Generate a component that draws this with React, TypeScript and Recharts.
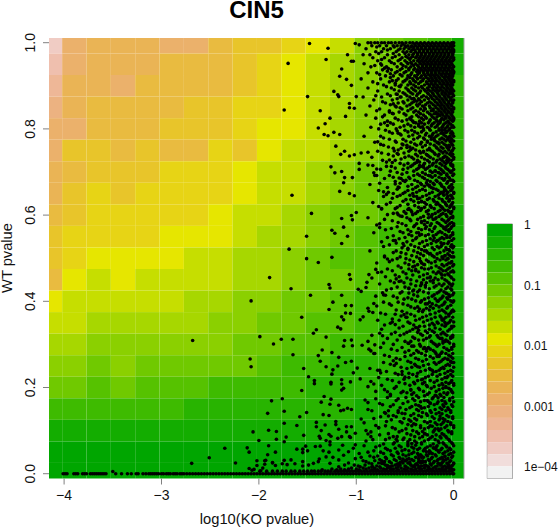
import { ScatterChart, Scatter, XAxis, YAxis, ReferenceArea, ReferenceLine, BarChart, Bar } from "recharts";

const levelColors = [
  "#00A600", "#13AD00", "#28B400", "#3EBB00", "#56C200", "#70C900", "#8BD000",
  "#A7D700", "#C6DE00", "#E6E600", "#E7D415", "#E8C52A", "#E9BB40", "#EAB455",
  "#EBB16B", "#ECB281", "#EEB797", "#EFBFAE", "#F0CCC4", "#F1DDDB", "#F2F2F2",
];

const koMin = -4.155;
const koMax = 0.106;
const wtMin = -0.0111;
const wtMax = 1.0109;

const koEdges = [koMin, -4.02, -3.77, -3.52, -3.27, -3.02, -2.77, -2.52, -2.27, -2.02, -1.77, -1.52, -1.27, -1.02, -0.77, -0.52, -0.27, -0.02, koMax];
const wtEdges = [wtMax, 0.975, 0.925, 0.875, 0.825, 0.775, 0.725, 0.675, 0.625, 0.575, 0.525, 0.475, 0.425, 0.375, 0.325, 0.275, 0.225, 0.175, 0.125, 0.075, 0.025, wtMin];

// palette index of each cell, top row first
const heatLevels = [
  [18, 14, 13, 13, 13, 14, 14, 12, 11, 11, 10, 9, 8, 6, 5, 4, 3, 1],
  [17, 14, 13, 13, 13, 12, 12, 12, 11, 10, 9, 8, 7, 6, 5, 4, 3, 1],
  [16, 13, 13, 14, 12, 12, 12, 12, 11, 10, 9, 8, 7, 6, 5, 4, 3, 2],
  [15, 13, 12, 12, 12, 12, 11, 11, 10, 10, 9, 8, 7, 6, 5, 4, 3, 2],
  [14, 14, 12, 12, 12, 11, 11, 11, 10, 9, 9, 8, 7, 6, 5, 4, 3, 2],
  [14, 11, 11, 12, 11, 12, 12, 10, 11, 9, 8, 8, 7, 6, 5, 4, 3, 2],
  [13, 12, 11, 11, 11, 10, 10, 10, 9, 8, 8, 7, 6, 5, 4, 3, 2, 2],
  [13, 11, 10, 11, 10, 10, 10, 10, 9, 8, 8, 7, 6, 5, 4, 3, 2, 2],
  [12, 11, 10, 10, 10, 10, 10, 9, 8, 8, 7, 6, 5, 5, 4, 3, 2, 1],
  [11, 10, 10, 10, 10, 9, 9, 9, 8, 7, 7, 6, 5, 4, 3, 3, 2, 1],
  [11, 10, 9, 9, 9, 9, 8, 8, 7, 7, 6, 5, 4, 4, 3, 3, 2, 1],
  [12, 9, 8, 9, 8, 8, 8, 8, 7, 7, 6, 5, 5, 4, 3, 2, 2, 1],
  [9, 8, 8, 8, 8, 8, 7, 7, 6, 6, 5, 5, 4, 3, 3, 2, 1, 1],
  [8, 8, 7, 7, 7, 7, 7, 6, 6, 5, 5, 4, 4, 3, 2, 2, 1, 1],
  [7, 7, 6, 6, 6, 6, 6, 6, 5, 5, 4, 4, 3, 3, 2, 2, 1, 1],
  [6, 6, 5, 6, 5, 5, 5, 5, 5, 4, 3, 3, 2, 2, 2, 1, 1, 0],
  [5, 5, 4, 5, 4, 4, 4, 3, 3, 3, 3, 2, 2, 2, 1, 1, 1, 0],
  [3, 3, 3, 3, 3, 3, 2, 2, 2, 2, 2, 2, 2, 1, 1, 1, 0, 0],
  [1, 1, 1, 1, 1, 1, 1, 1, 1, 1, 1, 1, 1, 1, 1, 1, 0, 0],
  [0, 0, 0, 0, 0, 0, 0, 0, 0, 0, 0, 0, 0, 0, 0, 0, 0, 0],
  [0, 0, 0, 0, 0, 0, 0, 0, 0, 0, 0, 0, 0, 0, 0, 0, 0, 0],
];

const koTicks = [-4, -3, -2, -1, 0];
const wtTicks = [0, 0.2, 0.4, 0.6, 0.8, 1];
const legendTicks = [0, -1, -2, -3, -4];
const legendLabels = ["1", "0.1", "0.01", "0.001", "1e\u221204"];

// points are ko*100, wt*1000 from here on
const sparsePoints = [
  [-148, 998], [-129, 987], [-170, 952], [-131, 961], [-109, 972], [-101, 998], [-97, 995], [-105, 957], [-103, 957], [-115, 939],
  [-117, 922], [-110, 915], [-105, 901], [-123, 887], [-119, 879], [-118, 875], [-150, 875], [-174, 844], [-137, 842], [-127, 825],
  [-132, 812], [-139, 802], [-133, 787], [-129, 784], [-123, 792], [-117, 787], [-111, 829], [-107, 859], [-102, 848], [-107, 849],
  [-100, 875], [-121, 760], [-116, 741], [-112, 748], [-107, 737], [-102, 740], [-95, 744], [-88, 746], [-126, 712], [-122, 698],
  [-115, 701], [-112, 687], [-113, 675], [-104, 687], [-97, 720], [-97, 706], [-88, 716], [-83, 715], [-79, 707], [-166, 646],
  [-117, 655], [-107, 650], [-146, 604], [-102, 645], [-115, 592], [-105, 599], [-104, 589], [-100, 606], [-125, 565], [-122, 558],
  [-113, 572], [-109, 551], [-151, 551], [-169, 521], [-151, 499], [-125, 502], [-115, 534], [-139, 490],
  [-189, 455], [-208, 401], [-268, 309], [-199, 318], [-185, 301], [-209, 266], [-208, 248], [-187, 169], [-191, 140], [-206, 97],
  [-190, 101], [-182, 98], [-200, 77], [-182, 80], [-190, 65], [-235, 59], [-212, 60], [-210, 50], [-191, 44], [-183, 50],
  [-251, 37], [-202, 30], [-194, 30], [-194, 22], [-269, 24], [-224, 25], [-186, 25], [-202, 19], [-196, 13], [-183, 19],
  [-210, 12], [-207, 8], [-205, 10], [-198, 7], [-350, 5],
  [-143, 209], [-126, 208], [-115, 208], [-113, 198], [-115, 194], [-156, 193], [-176, 174], [-133, 179], [-136, 166], [-126, 173],
  [-127, 161], [-118, 159], [-174, 145], [-151, 142], [-158, 132], [-134, 137], [-128, 135], [-116, 146], [-113, 148], [-109, 152],
  [-105, 149], [-174, 117], [-161, 112], [-141, 119], [-141, 109], [-132, 113], [-121, 121], [-121, 114], [-110, 109], [-118, 103],
  [-136, 100], [-105, 109], [-110, 97], [-174, 74], [-172, 85], [-154, 89], [-126, 87], [-128, 91], [-137, 82], [-138, 87],
  [-131, 77], [-127, 74], [-119, 82], [-115, 86], [-107, 86], [-106, 84], [-101, 94], [-152, 64], [-161, 57], [-155, 57],
  [-155, 49], [-150, 53], [-142, 63], [-137, 64], [-127, 67], [-134, 53], [-128, 50], [-114, 66], [-118, 55], [-101, 67],
  [-138, 34], [-131, 39], [-124, 38], [-193, 31], [-174, 31], [-167, 32], [-155, 28], [-186, 26], [-176, 23], [-171, 21],
  [-163, 23], [-155, 18], [-149, 20], [-144, 24], [-139, 28], [-127, 24], [-118, 32], [-113, 43], [-108, 51], [-103, 59],
  [-167, 429], [-147, 414], [-128, 439], [-127, 431], [-115, 414], [-124, 398], [-128, 381], [-107, 462], [-106, 451], [-87, 462],
  [-89, 444], [-90, 432], [-98, 428], [-95, 423], [-156, 363], [-115, 364], [-113, 357], [-111, 390], [-105, 390], [-111, 373],
  [-106, 372], [-119, 340], [-116, 336], [-93, 364], [-96, 357], [-87, 377], [-83, 374], [-177, 312], [-165, 312], [-165, 276],
  [-144, 326], [-141, 334], [-131, 317], [-135, 287], [-139, 274], [-125, 281], [-137, 261], [-154, 244], [-131, 248], [-118, 270],
  [-112, 309], [-113, 296], [-105, 310], [-104, 297], [-94, 298], [-88, 307], [-87, 289], [-81, 299], [-124, 241], [-119, 250],
  [-125, 231], [-149, 225], [-126, 212], [-143, 216], [-111, 258], [-105, 261], [-99, 245], [-103, 234], [-115, 218], [-106, 213], [-96, 220],
];

// chains of touching dots in the dense right part
const clumpPoints = [
  [-41, 871], [-38, 864], [-35, 858], [-21, 842], [-18, 835], [-14, 831], [-44, 822], [-41, 815], [-36, 811], [-32, 805],
  [-12, 798], [-8, 792], [-23, 781], [-20, 774], [-17, 768], [-52, 763], [-48, 757], [-44, 752], [-31, 746], [-27, 739],
  [-11, 733], [-7, 727], [-38, 722], [-35, 715], [-31, 711], [-19, 703], [-15, 698], [-24, 691], [-56, 686], [-52, 680],
  [-28, 675], [-25, 669], [-21, 662], [-10, 655], [-7, 649], [-41, 644], [-37, 638], [-33, 631], [-16, 626], [-13, 620],
  [-47, 613], [-43, 607], [-26, 602], [-23, 596], [-19, 591], [-33, 585], [-30, 578], [-8, 572], [-5, 565], [-38, 559],
  [-35, 553], [-20, 547], [-17, 541], [-13, 536], [-51, 529], [-47, 523], [-28, 517], [-24, 511], [-9, 505], [-6, 499],
  [-34, 493], [-31, 486], [-42, 480], [-39, 474], [-15, 468], [-12, 461], [-24, 455], [-21, 449], [-33, 443], [-29, 437],
  [-46, 431], [-42, 424], [-7, 418], [-4, 412], [-19, 406], [-16, 400], [-27, 394], [-24, 388], [-35, 382], [-32, 376],
  [-51, 369], [-48, 363], [-12, 357], [-9, 351], [-20, 345], [-39, 339], [-36, 333], [-27, 327], [-24, 320], [-14, 314],
  [-11, 308], [-46, 302], [-43, 296], [-31, 290], [-28, 284], [-18, 278], [-15, 272], [-6, 266], [-3, 260], [-40, 254],
  [-37, 248], [-24, 242], [-21, 236], [-53, 230], [-50, 224], [-33, 218], [-30, 212], [-11, 206], [-8, 200], [-44, 194],
  [-41, 188], [-19, 182], [-16, 176], [-27, 170], [-24, 164], [-36, 158], [-33, 152], [-57, 146], [-53, 140], [-14, 134],
  [-11, 128], [-44, 122], [-41, 116], [-22, 110], [-19, 104], [-32, 98], [-29, 92], [-62, 86], [-59, 80], [-47, 74],
  [-43, 70], [-39, 66], [-21, 60], [-18, 56], [-28, 51], [-25, 47], [-36, 42], [-33, 38], [-52, 34], [-49, 30],
  [-45, 27], [-16, 24], [-13, 21], [-68, 19], [-65, 16], [-26, 15], [-30, 19], [-42, 17], [-39, 22], [-58, 22],
  [-55, 26], [-74, 24], [-71, 28], [-11, 33], [-9, 40], [-35, 30], [-32, 26], [-7, 15], [-84, 16], [-81, 12],
  [-63, 912], [-60, 906], [-56, 899], [-68, 934], [-65, 928], [-74, 948], [-71, 941], [-58, 880], [-55, 874], [-62, 858],
  [-59, 851], [-66, 842], [-63, 836], [-71, 814], [-68, 808], [-58, 795], [-55, 788], [-78, 770], [-75, 764], [-61, 749],
  [-58, 743], [-66, 728], [-63, 722], [-82, 698], [-79, 692], [-60, 672], [-57, 665], [-72, 654], [-69, 648], [-77, 620],
  [-74, 614], [-58, 605], [-55, 598], [-79, 577], [-76, 571], [-62, 541], [-59, 535], [-71, 505], [-68, 498], [-80, 474],
  [-78, 467], [-59, 452], [-56, 446], [-73, 420], [-70, 414], [-82, 395], [-79, 389], [-63, 352], [-60, 346], [-76, 326],
  [-73, 320], [-85, 285], [-82, 279], [-62, 262], [-59, 256], [-78, 240], [-75, 234], [-85, 214], [-82, 208], [-68, 190],
  [-65, 184], [-91, 171], [-88, 165], [-70, 140], [-67, 134], [-95, 127], [-80, 112], [-77, 106], [-88, 92], [-85, 86],
];

const koAtZeroWt = [
  -401, -399, -397, -390, -388, -386, -381, -379, -377, -373, -371, -369, -367, -365, -363, -361, -359, -357, -347, -341, -335, -331,
  -326, -324, -319, -316, -313, -311, -309, -307, -305, -303, -300, -298, -295, -293, -291, -288, -286, -284, -281, -279, -277, -274,
  -271, -268, -265, -262, -259, -256, -253, -250, -247, -244, -241, -238, -235, -232, -229, -226, -223, -220, -217, -214, -211, -208,
  -205, -202, -199, -196, -193, -190, -187, -184, -181, -178, -175, -172, -169, -166, -163, -160, -157, -154, -151, -148, -145, -142,
  -139, -136, -133, -130, -127, -124, -121, -118, -115, -112, -109, -106, -103, -100, -97, -94, -91, -88, -85, -82, -79, -76, -73, -70,
  -67, -64, -61, -58, -55, -52, -49, -46, -43, -40, -37, -34, -31, -28, -25, -22, -19, -16, -13, -10, -7, -4, -1, 0,
];
const koAtLowWt = [
  -199, -192, -186, -181, -176, -172, -167, -163, -158, -154, -150, -146, -143, -139, -136, -132, -129, -126, -122, -119, -116, -113,
  -110, -107, -104, -101, -98, -95, -92, -89, -86, -83, -80, -77, -74, -71, -68, -65, -62, -59, -56, -53, -50, -47, -44, -41, -38, -35,
  -32, -29, -26, -23, -20, -17, -14, -11, -8, -5, -2,
];

// one row per wt value: [wt*1000, [ko*100, ...]]
const denseRows: [number, number[]][] = [
  [1000, [-88, -85, -81, -78, -74, -71, -67, -64, -60, -56, -53, -49, -45, -42, -38, -34, -30, -26, -22, -18, -14, -10, -6, -2, 0]],
  [993, [-84, -76, -69, -62, -58, -54, -50, -47, -43, -39, -35, -31, -27, -23, -19, -15, -11, -7, -3, 0]],
  [986, [-90, -72, -65, -55, -51, -46, -41, -37, -33, -29, -25, -21, -17, -13, -9, -5, -1]],
  [979, [-80, -74, -59, -52, -48, -44, -39, -35, -31, -27, -23, -19, -15, -11, -7, -3, 0]],
  [972, [-93, -86, -68, -56, -46, -42, -37, -33, -29, -25, -21, -17, -13, -9, -5, -1]],
  [965, [-83, -71, -63, -53, -47, -44, -39, -35, -31, -27, -23, -19, -15, -11, -7, -3, 0]],
  [958, [-78, -66, -57, -50, -41, -37, -33, -29, -25, -21, -17, -13, -9, -5, -1]],
  [951, [-92, -75, -61, -54, -47, -43, -39, -34, -30, -26, -22, -18, -14, -10, -6, -2]],
  [944, [-85, -69, -58, -49, -44, -36, -32, -28, -24, -20, -16, -12, -8, -4, 0]],
  [937, [-73, -64, -55, -46, -41, -37, -33, -29, -25, -21, -17, -13, -9, -5, -1]],
  [930, [-88, -79, -60, -51, -43, -35, -31, -27, -23, -19, -15, -11, -7, -3, 0]],
  [923, [-70, -62, -53, -47, -40, -33, -29, -24, -20, -16, -12, -8, -4, -1]],
  [916, [-95, -75, -57, -48, -42, -37, -31, -26, -22, -18, -14, -9, -5, -2]],
  [909, [-83, -66, -52, -45, -39, -34, -28, -23, -19, -15, -11, -7, -3, 0]],
  [902, [-72, -60, -54, -47, -41, -30, -25, -21, -17, -12, -8, -4, -1]],
  [895, [-88, -64, -49, -43, -36, -32, -27, -22, -18, -14, -10, -6, -2]],
  [888, [-78, -56, -46, -39, -34, -29, -24, -19, -15, -11, -7, -3, 0]],
  [881, [-68, -59, -50, -42, -37, -26, -21, -16, -12, -8, -4, -1]],
  [874, [-93, -74, -54, -45, -33, -28, -23, -18, -14, -9, -5, -2]],
  [867, [-82, -63, -47, -40, -35, -30, -20, -15, -11, -7, -3, 0]],
  [860, [-70, -57, -51, -43, -27, -23, -17, -13, -9, -5, -1]],
  [853, [-86, -60, -48, -37, -32, -25, -19, -14, -10, -6, -2]],
  [846, [-76, -53, -44, -34, -29, -21, -16, -12, -8, -3, 0]],
  [839, [-66, -56, -41, -36, -27, -18, -13, -9, -5, -1]],
  [832, [-90, -71, -49, -38, -31, -23, -15, -11, -7, -2]],
  [825, [-80, -60, -45, -33, -28, -20, -12, -8, -4, 0]],
  [818, [-68, -53, -42, -35, -25, -17, -14, -6, -1]],
  [811, [-75, -62, -47, -30, -22, -16, -10, -3]],
  [804, [-85, -55, -40, -34, -27, -19, -12, -7, -2, 0]],
  [797, [-70, -50, -43, -31, -24, -15, -9, -5]],
  [790, [-63, -57, -37, -28, -21, -13, -11, -3, -1]],
  [783, [-92, -75, -46, -35, -25, -18, -8, -4, 0]],
  [776, [-66, -52, -41, -30, -23, -14, -10, -6, -2]],
  [769, [-81, -59, -44, -33, -27, -16, -12, -3]],
  [762, [-72, -48, -38, -29, -20, -8, -5, -1]],
  [755, [-62, -54, -42, -25, -17, -11, -6, 0]],
  [748, [-78, -46, -35, -31, -22, -13, -9, -2]],
  [741, [-67, -57, -39, -28, -19, -15, -4, -1]],
  [734, [-84, -50, -43, -33, -24, -10, -7, 0]],
  [727, [-73, -60, -37, -27, -17, -12, -5, -2]],
  [720, [-55, -47, -40, -30, -21, -14, -8, -3]],
  [713, [-69, -64, -44, -34, -25, -18, -9, -1]],
  [706, [-75, -52, -38, -29, -13, -6, 0]],
  [699, [-58, -48, -32, -22, -16, -10, -3]],
  [692, [-81, -66, -41, -35, -26, -19, -7, -1]],
  [685, [-71, -54, -45, -30, -12, -9, -4]],
  [678, [-60, -50, -37, -24, -17, -6, 0]],
  [671, [-86, -43, -33, -27, -20, -13, -2]],
  [664, [-68, -56, -39, -23, -10, -5, -1]],
  [657, [-77, -47, -35, -29, -16, -8, -3]],
  [650, [-62, -52, -42, -25, -14, -11, 0]],
  [643, [-72, -58, -38, -32, -19, -6, -2]],
  [636, [-49, -44, -27, -21, -12, -4]],
  [629, [-83, -65, -36, -30, -17, -9, -1]],
  [622, [-55, -40, -24, -14, -7, -3]],
  [615, [-74, -60, -46, -33, -20, -11, 0]],
  [608, [-51, -37, -28, -16, -5, -2]],
  [601, [-68, -57, -42, -22, -13, -8]],
  [594, [-88, -48, -34, -26, -18, -3, -1]],
  [587, [-63, -44, -30, -10, -6]],
  [580, [-76, -53, -38, -23, -15, -4, 0]],
  [573, [-58, -41, -28, -19, -11, -2]],
  [566, [-70, -47, -33, -25, -8, -5]],
  [559, [-82, -52, -36, -16, -12, -1]],
  [552, [-62, -43, -29, -21, -7, -3]],
  [545, [-56, -39, -24, -14, -10, 0]],
  [538, [-74, -48, -32, -18, -5]],
  [531, [-66, -44, -27, -12, -2]],
  [524, [-53, -36, -22, -15, -8, -1]],
  [517, [-86, -59, -41, -30, -10, -4]],
  [510, [-49, -34, -25, -17, -6]],
  [503, [-71, -55, -38, -20, -12, -2, 0]],
  [496, [-63, -45, -28, -14, -8]],
  [489, [-79, -50, -33, -23, -5, -3]],
  [482, [-57, -40, -18, -10, -1]],
  [475, [-68, -46, -30, -26, -13, -6]],
  [468, [-74, -52, -36, -21, -16, -3, 0]],
  [461, [-60, -42, -31, -9, -5]],
  [454, [-84, -48, -27, -19, -12, -2]],
  [447, [-65, -54, -38, -24, -7]],
  [440, [-76, -44, -33, -15, -10, -4, -1]],
  [433, [-58, -50, -29, -20, -6]],
  [426, [-69, -41, -35, -13, -2]],
  [419, [-55, -46, -26, -17, -8, 0]],
  [412, [-80, -62, -37, -22, -11, -4]],
  [405, [-51, -43, -30, -14, -6]],
  [398, [-72, -57, -34, -25, -9, -1]],
  [391, [-64, -47, -18, -12, -3]],
  [384, [-88, -40, -28, -21, -7]],
  [377, [-53, -36, -15, -10, -2, 0]],
  [370, [-70, -60, -44, -24, -5]],
  [363, [-49, -32, -19, -13, -8, -1]],
  [356, [-78, -56, -39, -27, -11, -3]],
  [349, [-65, -45, -22, -16, -6]],
  [342, [-52, -35, -30, -9, -2, 0]],
  [335, [-74, -42, -25, -14, -4]],
  [328, [-60, -48, -37, -20, -11]],
  [321, [-84, -55, -32, -17, -7, -1]],
  [314, [-68, -40, -28, -12, -3]],
  [307, [-50, -44, -23, -9, -6]],
  [300, [-62, -35, -19, -15, 0]],
  [293, [-75, -53, -30, -26, -10, -2]],
  [286, [-58, -46, -38, -21, -5]],
  [279, [-81, -41, -33, -13, -8, -1]],
  [272, [-66, -50, -24, -17, -3]],
  [265, [-55, -36, -28, -11, -6]],
  [258, [-72, -44, -20, -15, -2, 0]],
  [251, [-61, -39, -31, -8, -4]],
  [244, [-86, -48, -25, -13, -10]],
  [237, [-69, -53, -34, -18, -6, -1]],
  [230, [-57, -42, -22, -14, -3]],
  [223, [-77, -46, -29, -9, -7]],
  [216, [-63, -37, -24, -17, -2]],
  [209, [-50, -40, -32, -12, -5, 0]],
  [202, [-88, -59, -27, -20, -8]],
  [195, [-71, -44, -35, -15, -3]],
  [188, [-54, -48, -25, -10, -6, -1]],
  [181, [-65, -38, -30, -18, -13]],
  [174, [-80, -57, -42, -22, -4]],
  [167, [-47, -34, -26, -16, -9, 0]],
  [160, [-73, -62, -39, -20, -11, -2]],
  [153, [-55, -45, -30, -14, -6]],
  [146, [-84, -67, -36, -24, -8, -3]],
  [139, [-50, -41, -28, -18, -12]],
  [132, [-75, -59, -33, -22, -5, -1]],
  [125, [-64, -46, -38, -15, -9]],
  [118, [-92, -53, -27, -19, -11, -3]],
  [111, [-70, -43, -34, -24, -7, 0]],
  [104, [-60, -49, -30, -16, -13]],
  [97, [-85, -56, -38, -21, -5, -2]],
  [90, [-76, -44, -27, -18, -10]],
  [83, [-66, -51, -35, -24, -13, -7]],
  [76, [-90, -58, -40, -30, -16, -4]],
  [69, [-72, -62, -47, -33, -21, -10, -1]],
  [62, [-80, -54, -43, -27, -18, -7]],
  [56, [-68, -50, -37, -30, -13, -3]],
  [50, [-88, -75, -58, -41, -24, -15, -9, 0]],
  [44, [-64, -52, -46, -34, -28, -19, -5]],
  [38, [-95, -82, -70, -56, -39, -31, -22, -12, -2]],
  [33, [-76, -61, -48, -43, -26, -16, -8]],
  [28, [-90, -66, -53, -36, -29, -20, -11, -4]],
  [23, [-84, -72, -57, -45, -38, -24, -14, -6, 0]],
  [18, [-98, -79, -63, -50, -41, -33, -27, -17, -9, -2]],
  [13, [-105, -93, -87, -75, -68, -59, -54, -47, -36, -30, -21, -12, -5]],
];

// second pass over the same area, between the rows above
const fillRows: [number, number[]][] = [
  [997, [-52, -40, -36, -32, -28, -24, -20, -16, -12, -8, -4, -1]],
  [990, [-79, -61, -49, -44, -41, -37, -33, -29, -25, -21, -17, -13, -9, -5, -2]],
  [983, [-68, -57, -43, -40, -35, -31, -27, -23, -19, -15, -11, -7, -3, 0]],
  [975, [-77, -62, -50, -41, -37, -33, -29, -25, -21, -17, -13, -9, -5, -1]],
  [968, [-60, -49, -42, -38, -34, -30, -26, -22, -18, -14, -10, -6, -2]],
  [961, [-74, -55, -45, -36, -32, -28, -24, -20, -16, -12, -8, -4, 0]],
  [954, [-64, -48, -44, -35, -31, -27, -23, -19, -15, -11, -7, -3]],
  [947, [-81, -52, -41, -37, -32, -28, -24, -20, -16, -12, -8, -4, -1]],
  [940, [-67, -53, -46, -40, -34, -30, -26, -22, -18, -14, -10, -6, -2]],
  [933, [-58, -49, -38, -35, -31, -27, -23, -19, -15, -11, -7, -3, 0]],
  [926, [-76, -55, -44, -37, -30, -26, -22, -18, -13, -9, -5, -1]],
  [919, [-65, -45, -38, -34, -28, -23, -19, -15, -10, -6, -2]],
  [912, [-59, -50, -41, -32, -25, -21, -17, -12, -8, -4, 0]],
  [905, [-78, -44, -36, -27, -23, -19, -14, -10, -6, -2]],
  [898, [-69, -55, -39, -33, -25, -20, -16, -12, -7, -3]],
  [891, [-61, -47, -41, -30, -26, -21, -17, -13, -8, -4, -1]],
  [884, [-52, -44, -35, -27, -22, -17, -12, -9, -5, -2]],
  [877, [-80, -65, -48, -38, -31, -24, -20, -15, -10, -6, 0]],
  [870, [-58, -43, -36, -26, -22, -17, -12, -8, -3]],
  [863, [-73, -52, -41, -33, -25, -19, -14, -10, -5, -1]],
  [856, [-65, -45, -38, -29, -21, -16, -12, -7, -3]],
  [849, [-55, -42, -30, -24, -18, -13, -9, -5, 0]],
  [842, [-79, -47, -39, -31, -23, -15, -10, -6, -2]],
  [835, [-62, -51, -34, -25, -20, -16, -12, -7, -3]],
  [828, [-73, -43, -36, -29, -22, -17, -9, -5, -1]],
  [821, [-57, -48, -31, -24, -18, -13, -10, -3, 0]],
  [814, [-65, -39, -33, -26, -20, -14, -8, -5]],
  [807, [-51, -44, -36, -23, -17, -11, -6, -1]],
  [800, [-77, -59, -31, -25, -15, -9, -4]],
  [793, [-66, -47, -40, -33, -18, -12, -7, -2]],
  [786, [-54, -42, -29, -22, -16, -10, -1]],
  [779, [-72, -37, -31, -20, -12, -6, -3]],
  [772, [-60, -49, -27, -19, -8, -4, 0]],
  [765, [-53, -40, -34, -24, -15, -10, -2]],
  [758, [-67, -45, -32, -18, -13, -7, -4]],
  [751, [-57, -39, -27, -24, -15, -5, -1]],
  [744, [-74, -51, -34, -20, -11, -7, -3]],
  [737, [-62, -46, -37, -26, -16, -9, -2]],
  [730, [-54, -41, -30, -21, -14, -5, 0]],
  [723, [-69, -35, -25, -18, -10, -6]],
  [716, [-51, -42, -31, -22, -12, -3, -1]],
  [709, [-60, -47, -36, -27, -15, -8]],
  [702, [-65, -41, -24, -19, -11, -4, -2]],
  [695, [-53, -37, -29, -13, -7, 0]],
  [688, [-62, -46, -32, -22, -15, -5]],
  [681, [-49, -40, -27, -18, -10, -3, -1]],
  [674, [-76, -55, -34, -21, -14, -7]],
  [667, [-47, -37, -30, -25, -12, -4]],
  [660, [-58, -42, -32, -18, -9, -2]],
  [653, [-67, -50, -38, -22, -13, -6, 0]],
  [646, [-55, -45, -28, -16, -10, -3]],
  [639, [-63, -35, -25, -15, -7, -1]],
  [632, [-52, -41, -33, -20, -11, -5]],
  [625, [-69, -47, -28, -18, -8, -2]],
  [618, [-58, -36, -30, -23, -12, -4, 0]],
  [611, [-44, -34, -26, -14, -9, -6]],
  [604, [-62, -49, -39, -19, -11, -3]],
  [597, [-53, -31, -23, -15, -7, -1]],
  [590, [-71, -45, -37, -21, -12, -5]],
  [583, [-57, -33, -27, -17, -8, -2]],
  [576, [-49, -40, -24, -13, -6, 0]],
  [569, [-64, -36, -29, -20, -10, -3]],
  [562, [-55, -44, -22, -14, -5]],
  [555, [-46, -33, -26, -18, -9, -1]],
  [548, [-68, -50, -38, -12, -7, -4]],
  [541, [-60, -42, -28, -21, -16, -2]],
  [534, [-52, -35, -23, -10, -6]],
  [527, [-72, -40, -30, -17, -13, -3, 0]],
  [520, [-47, -33, -20, -7, -5]],
  [513, [-62, -54, -37, -27, -14, -1]],
  [506, [-43, -31, -22, -9, -4]],
  [499, [-58, -49, -35, -17, -11, -6]],
  [492, [-66, -41, -26, -19, -2]],
  [485, [-46, -37, -30, -12, -7, 0]],
  [478, [-54, -33, -23, -15, -4]],
  [471, [-63, -43, -39, -11, -8, -1]],
  [464, [-49, -27, -18, -13, -6]],
  [457, [-70, -56, -35, -24, -3]],
  [450, [-44, -31, -16, -9, 0]],
  [443, [-61, -51, -28, -21, -5]],
  [436, [-39, -34, -18, -12, -2]],
  [429, [-64, -46, -25, -8, -3]],
  [422, [-53, -37, -31, -15, -10]],
  [415, [-72, -41, -20, -5, -1]],
  [408, [-58, -47, -26, -12, -7]],
  [401, [-39, -33, -17, -3, 0]],
  [394, [-66, -52, -29, -22, -10]],
  [387, [-44, -37, -15, -6]],
  [380, [-59, -31, -25, -12, -1]],
  [373, [-75, -48, -19, -8, -3]],
  [366, [-54, -40, -28, -14, -5]],
  [359, [-63, -35, -23, -10]],
  [352, [-47, -31, -17, -4, 0]],
  [345, [-71, -41, -25, -12, -8]],
  [338, [-56, -37, -19, -2]],
  [331, [-45, -29, -22, -6]],
  [324, [-64, -51, -34, -13, -9]],
  [317, [-42, -25, -16, -3, -1]],
  [310, [-58, -36, -31, -8]],
  [303, [-72, -47, -21, -11, -4]],
  [296, [-41, -34, -17, 0]],
  [289, [-64, -28, -24, -7, -2]],
  [282, [-50, -36, -19, -12]],
  [275, [-71, -44, -29, -15, -5]],
  [268, [-59, -39, -21, -9, -1]],
  [261, [-47, -32, -13, -3]],
  [254, [-65, -26, -18, -6]],
  [247, [-54, -43, -35, -11, 0]],
  [240, [-76, -29, -22, -15, -3]],
  [233, [-60, -46, -37, -9]],
  [226, [-38, -26, -17, -6, -1]],
  [219, [-68, -51, -32, -12]],
  [212, [-56, -41, -20, -8, -3]],
  [205, [-74, -45, -28, -15, 0]],
  [198, [-61, -36, -23, -11, -5]],
  [191, [-80, -52, -31, -18, -2]],
  [184, [-43, -27, -14, -7]],
  [177, [-68, -49, -36, -21, -10, -1]],
  [170, [-59, -40, -30, -12, -4]],
  [163, [-76, -52, -24, -17, -8]],
  [156, [-65, -43, -34, -26, -10, -1]],
  [149, [-88, -49, -38, -19, -12, -5]],
  [142, [-71, -57, -32, -23, -15, -3]],
  [135, [-62, -44, -36, -27, -7]],
  [128, [-82, -51, -40, -20, -14, -1]],
  [121, [-69, -55, -30, -24, -10, -6]],
  [114, [-47, -39, -17, -13, -3]],
  [107, [-77, -63, -34, -26, -9, 0]],
  [100, [-90, -53, -42, -20, -15, -6]],
  [93, [-67, -48, -36, -30, -12, -2]],
  [86, [-58, -40, -32, -22, -14, -8]],
  [79, [-83, -70, -52, -45, -26, -19, -5]],
  [72, [-61, -38, -33, -15, -11, -2]],
  [65, [-92, -76, -56, -47, -24, -17, -8, 0]],
  [59, [-70, -60, -41, -35, -29, -20, -12, -4]],
  [53, [-82, -65, -53, -46, -31, -25, -16, -6]],
  [47, [-97, -72, -57, -43, -37, -22, -11, -3]],
  [41, [-86, -78, -62, -49, -33, -27, -18, -9, -1]],
  [35, [-101, -69, -55, -46, -36, -23, -14, -6]],
  [30, [-93, -81, -74, -59, -50, -41, -32, -25, -17, -10, -3]],
  [25, [-108, -87, -77, -64, -52, -47, -34, -21, -12, -7, 0]],
  [20, [-112, -102, -91, -70, -60, -55, -44, -37, -29, -23, -14, -5, -1]],
  [16, [-118, -96, -83, -76, -66, -57, -49, -40, -35, -26, -19, -11, -6, -3]],
  [11, [-125, -116, -108, -100, -90, -81, -72, -65, -62, -51, -44, -39, -33, -24, -18, -15, -8, -2]],
  [9, [-135, -120, -112, -97, -84, -78, -70, -63, -57, -49, -42, -34, -27, -22, -13, -10, -3, 0]],
];

const heatCells = heatLevels.flatMap((row, r) =>
  row.map((level, c) => ({
    x1: koEdges[c],
    x2: koEdges[c + 1],
    y1: wtEdges[r + 1],
    y2: wtEdges[r],
    fill: levelColors[level],
  })),
);

const scatterData = [
  ...sparsePoints.map(([k, w]) => ({ ko: k / 100, wt: w / 1000 })),
  ...clumpPoints.map(([k, w]) => ({ ko: k / 100, wt: w / 1000 })),
  ...koAtZeroWt.map((k) => ({ ko: k / 100, wt: 0 })),
  ...koAtLowWt.map((k) => ({ ko: k / 100, wt: 0.006 })),
  ...denseRows.flatMap(([w, kos]) => kos.map((k) => ({ ko: k / 100, wt: w / 1000 }))),
  ...fillRows.flatMap(([w, kos]) => kos.map((k) => ({ ko: k / 100, wt: w / 1000 }))),
];

// one stacked bar per colour level, each 0.2 decades tall, going down from 1
const legendRow: Record<string, number | string> = { name: "p" };
levelColors.forEach((_, i) => {
  legendRow[`l${i}`] = -0.2;
});

const fontFamily = "'Liberation Sans', Arial, sans-serif";

const Dot = (props: any) => <circle cx={props.cx} cy={props.cy} r={1.8} fill="#000" />;

const XTick = ({ x, payload }: any) => (
  <text x={x} y={500} textAnchor="middle" fontSize={14} fontFamily={fontFamily} fill="#111">
    {payload.value < 0 ? `\u2212${Math.abs(payload.value)}` : payload.value}
  </text>
);

const YTick = ({ y, payload }: any) => (
  <text x={35} y={y} transform={`rotate(-90 35 ${y})`} textAnchor="middle" fontSize={14} fontFamily={fontFamily} fill="#111">
    {payload.value.toFixed(1)}
  </text>
);

const LegendTick = ({ y, payload }: any) => (
  <text x={524} y={y + 5} fontSize={12} fontFamily={fontFamily} fill="#111">
    {legendLabels[Math.abs(payload.value)]}
  </text>
);

export default function App() {
  return (
    <div style={{ position: "absolute", left: 0, top: 0, width: 558, height: 528, background: "#fff" }}>
      <div style={{ position: "absolute", left: 0, top: 0 }}>
        <ScatterChart width={558} height={528} margin={{ top: 38, right: 94, bottom: 0, left: 0 }}>
          <XAxis
            type="number"
            dataKey="ko"
            domain={[koMin, koMax]}
            ticks={koTicks}
            allowDataOverflow
            height={49.5}
            tickSize={6}
            axisLine={false}
            tickLine={{ stroke: "#808080" }}
            tick={<XTick />}
            interval={0}
          />
          <YAxis
            type="number"
            dataKey="wt"
            domain={[wtMin, wtMax]}
            ticks={wtTicks}
            allowDataOverflow
            width={49}
            tickSize={6}
            axisLine={false}
            tickLine={{ stroke: "#808080" }}
            tick={<YTick />}
            interval={0}
          />
          {heatCells.map((c, i) => (
            <ReferenceArea key={i} x1={c.x1} x2={c.x2} y1={c.y1} y2={c.y2} fill={c.fill} fillOpacity={1} stroke="none" ifOverflow="visible" />
          ))}
          <ReferenceLine x={koMax} stroke="#a0a0a0" ifOverflow="visible" />
          <Scatter data={scatterData} shape={Dot} isAnimationActive={false} />
          <text x={256.5} y={18} textAnchor="middle" fontSize={24} fontWeight="bold" fontFamily={fontFamily} fill="#000">
            CIN5
          </text>
          <text x={257} y={524} textAnchor="middle" fontSize={14.7} fontFamily={fontFamily} fill="#111">
            log10(KO pvalue)
          </text>
          <text x={12} y={258} transform="rotate(-90 12 258)" textAnchor="middle" fontSize={14.7} fontFamily={fontFamily} fill="#111">
            WT pvalue
          </text>
        </ScatterChart>
      </div>
      <div style={{ position: "absolute", left: 0, top: 0 }}>
        <BarChart
          width={558}
          height={528}
          data={[legendRow]}
          stackOffset="sign"
          barCategoryGap={0}
          margin={{ top: 224, right: 0, bottom: 49.5, left: 487.3 }}
        >
          <XAxis dataKey="name" hide />
          <YAxis
            type="number"
            orientation="right"
            domain={[-4.2, 0]}
            ticks={legendTicks}
            width={45.5}
            axisLine={false}
            tickLine={false}
            tick={<LegendTick />}
            interval={0}
          />
          {levelColors.map((color, i) => (
            <Bar key={i} dataKey={`l${i}`} stackId="levels" fill={color} isAnimationActive={false} />
          ))}
          <ReferenceArea y1={-4.2} y2={0} fill="none" stroke="#909090" ifOverflow="visible" />
        </BarChart>
      </div>
    </div>
  );
}
